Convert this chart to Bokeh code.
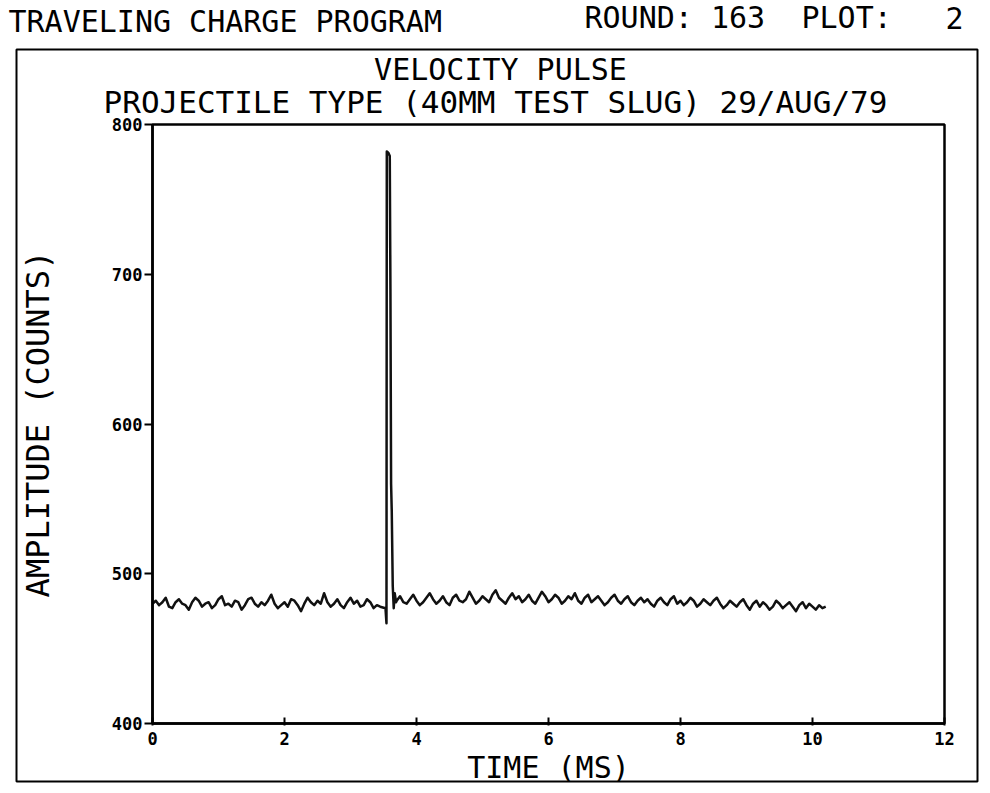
from bokeh.plotting import figure
from bokeh.models import Label, BoxAnnotation, Range1d, FixedTicker, LinearAxis
from bokeh.embed import file_html
from bokeh.resources import INLINE

# ---------------- data ----------------
sample_step_ms = 0.05

amp_before = [480, 482, 479, 481, 484, 478, 477, 481, 483, 480, 479, 476, 481, 484, 482, 478, 480, 481, 477, 479,
              483, 485, 479, 480, 478, 482, 481, 476, 479, 483, 484, 480, 478, 481, 479, 482, 486, 480, 477, 479,
              481, 478, 483, 482, 479, 475, 480, 484, 481, 479, 482, 480, 487, 481, 478, 480, 483, 479, 477, 481,
              484, 480, 482, 478, 479, 483, 481, 477, 479, 478]

spike_time = [3.53, 3.545, 3.55, 3.575, 3.595, 3.605, 3.615, 3.625, 3.64, 3.655, 3.67, 3.69]
spike_amp = [477, 467, 782, 781, 779, 690, 560, 542, 492, 477, 487, 481]

after_start_ms = 3.70
amp_after = [482, 485, 481, 480, 483, 486, 482, 479, 481, 484, 487, 483, 480, 482, 485, 481, 479, 484, 486, 482,
             481, 483, 488, 484, 480, 482, 485, 483, 481, 486, 489, 484, 482, 480, 484, 487, 483, 485, 481, 483,
             486, 482, 480, 484, 488, 485, 481, 483, 486, 484, 480, 482, 485, 483, 487, 482, 480, 484, 486, 481,
             483, 485, 482, 479, 481, 484, 486, 482, 480, 483, 485, 481, 479, 482, 484, 481, 483, 480, 478, 482,
             484, 481, 479, 483, 485, 480, 482, 479, 481, 484, 482, 478, 480, 483, 481, 479, 482, 484, 480, 477,
             479, 482, 480, 478, 481, 483, 479, 476, 480, 482, 478, 481, 479, 476, 478, 482, 480, 477, 479, 481,
             478, 475, 479, 481, 477, 480, 478, 476, 479, 477, 478]

x_ticks = [0, 2, 4, 6, 8, 10, 12]
y_ticks = [400, 500, 600, 700, 800]
x_min, x_max = 0, 12
y_min, y_max = 400, 800

header_left = "TRAVELING CHARGE PROGRAM"
header_round = "ROUND: 163"
header_plot = "PLOT:"
header_plot_no = "2"
title_1 = "VELOCITY PULSE"
title_2 = "PROJECTILE TYPE (40MM TEST SLUG) 29/AUG/79"
x_label = "TIME (MS)"
y_label = "AMPLITUDE (COUNTS)"

# ---------------- assemble series ----------------
time_before = [round(i * sample_step_ms, 3) for i in range(len(amp_before))]
time_after = [round(after_start_ms + i * sample_step_ms, 3) for i in range(len(amp_after))]
time_ms = time_before + spike_time + time_after
amplitude = amp_before + spike_amp + amp_after

# ---------------- layout (pixel geometry of the page) ----------------
FONT = "DejaVu Sans Mono"
W, H = 985, 790
PL, PR, PT, PB = 152, 944, 124, 723      # plot box edges (pixels)
sx = (PR - PL) / (x_max - x_min)
sy = (PB - PT) / (y_max - y_min)


def to_data(px, py):
    return x_min + (px - PL) / sx, y_max - (py - PT) / sy


xr0, yr0 = to_data(0, H)
xr1, yr1 = to_data(W, 0)

p = figure(width=W, height=H, output_backend="svg", toolbar_location=None,
           x_range=Range1d(xr0, xr1), y_range=Range1d(yr0, yr1),
           x_axis_type=None, y_axis_type=None, min_border=0)
p.background_fill_color = "white"
p.border_fill_color = "white"
p.outline_line_color = None
p.grid.visible = False

# outer page box
bl, bt = to_data(16, 49)
br, bb = to_data(977, 781)
p.add_layout(BoxAnnotation(left=bl, right=br, top=bt, bottom=bb, fill_alpha=0,
                           line_color="black", line_alpha=1, line_width=2, level="underlay"))
# plot box
p.add_layout(BoxAnnotation(left=x_min, right=x_max, top=y_max, bottom=y_min, fill_alpha=0,
                           line_color="black", line_alpha=1, line_width=2.5, level="underlay"))

p.line(time_ms, amplitude, line_color="#111111", line_width=2.5, line_join="round")

xaxis = LinearAxis(fixed_location=y_min, bounds=(x_min, x_max), ticker=FixedTicker(ticks=x_ticks))
yaxis = LinearAxis(fixed_location=x_min, bounds=(y_min, y_max), ticker=FixedTicker(ticks=y_ticks))
for ax in (xaxis, yaxis):
    ax.axis_line_color = "black"
    ax.axis_line_width = 2.5
    ax.major_tick_line_color = "black"
    ax.major_tick_line_width = 2
    ax.minor_tick_line_color = None
    ax.major_label_text_font = FONT
    ax.major_label_text_font_style = "bold"
    ax.major_label_text_font_size = "17px"
    ax.major_label_text_color = "black"
    ax.axis_label_text_font = FONT
    ax.axis_label_text_font_style = "normal"
    ax.axis_label_text_color = "black"

xaxis.major_tick_in = 6
xaxis.major_tick_out = 2
xaxis.major_label_standoff = 6
xaxis.axis_label = x_label
xaxis.axis_label_text_font_size = "30px"
xaxis.axis_label_standoff = 2
yaxis.major_tick_in = 0
yaxis.major_tick_out = 8
yaxis.major_label_standoff = 2
yaxis.axis_label = y_label
yaxis.axis_label_text_font_size = "32px"
yaxis.axis_label_standoff = 52
p.add_layout(xaxis, "below")
p.add_layout(yaxis, "left")


def add_text(px, py, text, align="left", size="30px"):
    x, y = to_data(px, py)
    p.add_layout(Label(x=x, y=y, text=text, text_font=FONT, text_font_size=size,
                       text_color="black", text_align=align, text_baseline="middle"))


add_text(8, 21, header_left)
add_text(584, 17, header_round)
add_text(801, 17, header_plot)
add_text(963, 17, header_plot_no, align="right")
add_text(500, 69, title_1, align="center")
add_text(495, 101, title_2, align="center", size="31px")

open("out.html", "w").write(file_html(p, INLINE))
